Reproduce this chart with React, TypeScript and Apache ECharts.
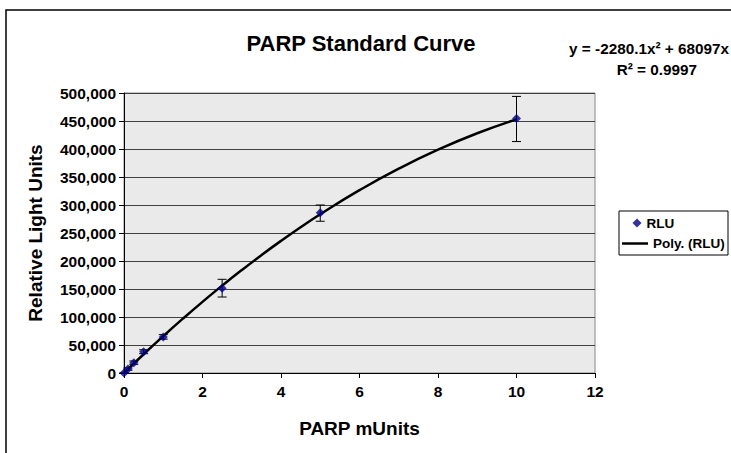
import React, { useEffect, useRef } from "react";
import * as echarts from "echarts";

// Measured data (PARP mUnits vs RLU)
const X_VALUES = [0, 0.1, 0.25, 0.5, 1, 2.5, 5, 10];
const RLU_VALUES = [0, 7000, 18500, 38000, 64500, 151500, 286000, 454500];
const ERR_LOW = [0, 5000, 15500, 34500, 60500, 135700, 271000, 413300];
const ERR_HIGH = [0, 9000, 21500, 41500, 68500, 167300, 300000, 493900];

// Polynomial trend line
const TREND_X = [0, 0.5, 1, 1.5, 2, 2.5, 3, 3.5, 4, 4.5, 5, 6, 7, 8, 9, 10];
const TREND_Y = [0, 33478, 65817, 97015, 127074, 155992, 183770, 210408, 235906, 260264, 283482, 326498, 364954, 398850, 428185, 452960];

const X_TICKS = { min: 0, max: 12, interval: 2 };
const Y_TICKS = { min: 0, max: 500000, interval: 50000 };

const TITLE = "PARP Standard Curve";
const EQUATION = "y = -2280.1x² + 68097x";
const R_SQUARED = "R² = 0.9997";
const FONT = "Liberation Sans, Arial, sans-serif";

export default function App() {
  const ref = useRef<HTMLDivElement>(null);
  useEffect(() => {
    if (!ref.current) return;
    const chart = echarts.init(ref.current, undefined, { renderer: "svg" });
    const scatterData = X_VALUES.map((x, i) => [x, RLU_VALUES[i]]);
    const errData = X_VALUES.map((x, i) => [x, ERR_LOW[i], ERR_HIGH[i]]);
    const trendData = TREND_X.map((x, i) => [x, TREND_Y[i]]);
    const fmt = (v: number) => v.toLocaleString("en-US");
    const legendText = { fontFamily: FONT, fontWeight: "bold", fontSize: 13.5, color: "#000" };
    chart.setOption({
      animation: false,
      backgroundColor: "#ffffff",
      textStyle: { fontFamily: FONT },
      title: {
        text: TITLE,
        left: 361,
        top: 32,
        textAlign: "center",
        padding: 0,
        textStyle: { fontFamily: FONT, fontWeight: "bold", fontSize: 22, color: "#000" },
      },
      graphic: [
        {
          type: "rect",
          silent: true,
          z: -10,
          shape: { x: 6, y: 10, width: 780, height: 500 },
          style: { fill: "none", stroke: "#000", lineWidth: 1.5 },
        },
        {
          type: "text",
          x: 729,
          y: 48,
          style: {
            text: EQUATION,
            align: "right",
            verticalAlign: "middle",
            font: `bold 15.3px ${FONT}`,
            fill: "#000",
          },
        },
        {
          type: "text",
          x: 697,
          y: 69,
          style: {
            text: R_SQUARED,
            align: "right",
            verticalAlign: "middle",
            font: `bold 15.3px ${FONT}`,
            fill: "#000",
          },
        },
        {
          type: "rect",
          z: 1,
          shape: { x: 619, y: 211, width: 109, height: 44 },
          style: { fill: "#fff", stroke: "#000", lineWidth: 1 },
        },
      ],
      legend: [
        {
          data: [{ name: "RLU", icon: "diamond" }],
          left: 632.5,
          top: 216,
          padding: 0,
          itemWidth: 9,
          itemHeight: 9,
          z: 10,
          textStyle: legendText,
        },
        {
          data: [{ name: "Poly. (RLU)", icon: "rect" }],
          left: 622,
          top: 236.5,
          padding: 0,
          itemWidth: 26,
          itemHeight: 2.5,
          z: 10,
          textStyle: legendText,
        },
      ],
      grid: {
        left: 124,
        right: 136,
        top: 93,
        bottom: 80,
        show: true,
        backgroundColor: "#eaeaea",
        borderColor: "#888",
        borderWidth: 1,
      },
      xAxis: {
        type: "value",
        min: X_TICKS.min,
        max: X_TICKS.max,
        interval: X_TICKS.interval,
        name: "PARP mUnits",
        nameLocation: "middle",
        nameGap: 46,
        nameTextStyle: { fontFamily: FONT, fontWeight: "bold", fontSize: 19, color: "#000" },
        axisLine: { lineStyle: { color: "#000", width: 1 } },
        axisTick: { show: true, length: 5, lineStyle: { color: "#000" } },
        axisLabel: { fontFamily: FONT, fontWeight: "bold", fontSize: 15.5, color: "#000", margin: 10 },
        splitLine: { show: false },
      },
      yAxis: {
        type: "value",
        min: Y_TICKS.min,
        max: Y_TICKS.max,
        interval: Y_TICKS.interval,
        name: "Relative Light Units",
        nameLocation: "middle",
        nameGap: 79,
        nameRotate: 90,
        nameTextStyle: { fontFamily: FONT, fontWeight: "bold", fontSize: 19, color: "#000" },
        axisLine: { show: true, lineStyle: { color: "#000", width: 1 } },
        axisTick: { show: true, length: 5, lineStyle: { color: "#000" } },
        axisLabel: {
          fontFamily: FONT,
          fontWeight: "bold",
          fontSize: 15.5,
          color: "#000",
          margin: 8,
          formatter: (v: number) => fmt(v),
        },
        splitLine: { show: true, lineStyle: { color: "#404040", width: 1 } },
      },
      series: [
        {
          name: "Poly. (RLU)",
          type: "line",
          data: trendData,
          smooth: true,
          symbol: "none",
          lineStyle: { color: "#000", width: 2.5 },
          itemStyle: { color: "#000" },
          z: 3,
        },
        {
          name: "errors",
          type: "custom",
          data: errData,
          z: 4,
          renderItem: (params: any, api: any) => {
            const x = api.value(0);
            const lo = api.coord([x, api.value(1)]);
            const hi = api.coord([x, api.value(2)]);
            const w = 4.5;
            const style = { stroke: "#000", lineWidth: 1 };
            return {
              type: "group",
              children: [
                { type: "line", shape: { x1: lo[0], y1: lo[1], x2: hi[0], y2: hi[1] }, style },
                { type: "line", shape: { x1: lo[0] - w, y1: lo[1], x2: lo[0] + w, y2: lo[1] }, style },
                { type: "line", shape: { x1: hi[0] - w, y1: hi[1], x2: hi[0] + w, y2: hi[1] }, style },
              ],
            };
          },
        },
        {
          name: "RLU",
          type: "scatter",
          data: scatterData,
          symbol: "diamond",
          symbolSize: 9,
          itemStyle: { color: "#000080" },
          z: 5,
        },
      ],
    });
    return () => chart.dispose();
  }, []);
  return (
    <div
      ref={ref}
      style={{ position: "absolute", left: 0, top: 0, width: 731, height: 453, background: "#fff" }}
    />
  );
}
